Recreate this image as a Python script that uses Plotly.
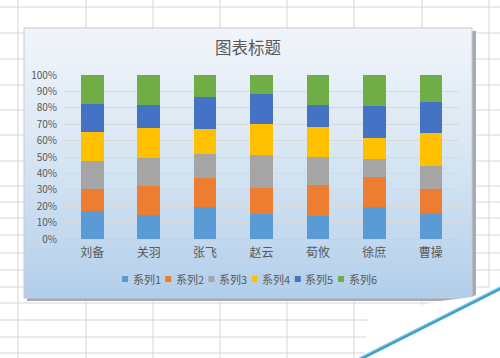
import plotly.graph_objects as go

categories = ["刘备", "关羽", "张飞", "赵云", "荀攸", "徐庶", "曹操"]
series_names = ["系列1", "系列2", "系列3", "系列4", "系列5", "系列6"]
s1 = [17.3, 14.5, 19.6, 15.1, 13.9, 19.8, 16.1]
s2 = [13.1, 17.9, 17.7, 16.1, 19.0, 18.0, 14.5]
s3 = [17.4, 17.2, 14.7, 19.8, 16.9, 10.8, 13.9]
s4 = [17.3, 18.0, 14.9, 19.2, 18.4, 13.2, 20.0]
s5 = [17.1, 14.0, 19.6, 18.0, 13.6, 19.0, 19.2]
s6 = [17.8, 18.4, 13.5, 11.8, 18.2, 19.2, 16.3]
series_values = [s1, s2, s3, s4, s5, s6]
colors = ["#5B9BD5", "#ED7D31", "#A5A5A5", "#FFC000", "#4472C4", "#70AD47"]
title_text = "图表标题"

W, H = 500, 358
L, R, T, B = 64, 459, 75, 239
FONT = "Noto Sans CJK SC"


def px(x):
    return (x - L) / (R - L)


def py(y):
    return (B - y) / (B - T)


fig = go.Figure()
for name, vals, col in zip(series_names, series_values, colors):
    fig.add_trace(go.Bar(x=categories, y=vals, name=name, marker_color=col,
                         marker_line_width=0, showlegend=False))

shapes = []
# Excel grid behind the chart
grid_col = "#d6d6d6"
for gx in [18, 86, 153, 220, 287, 354, 422, 489]:
    shapes.append(dict(type="line", xref="paper", yref="paper", layer="below",
                       x0=px(gx), x1=px(gx), y0=py(0), y1=py(H),
                       line=dict(color=grid_col, width=1)))
for gy in [7, 33, 59, 85, 110, 135, 161, 186, 202, 218, 235, 253, 270, 287, 303, 320, 337, 353]:
    shapes.append(dict(type="line", xref="paper", yref="paper", layer="below",
                       x0=px(0), x1=px(W), y0=py(gy), y1=py(gy),
                       line=dict(color=grid_col, width=1)))

# chart shadow
shapes.append(dict(type="rect", xref="paper", yref="paper", layer="below",
                   x0=px(27), x1=px(476), y0=py(31), y1=py(301),
                   fillcolor="#a3abb4", line_width=0))

# chart area gradient
CX0, CX1, CY0, CY1 = 24, 472, 28, 298
stops = [(0.0, (241, 245, 250)), (0.45, (217, 231, 243)), (1.0, (178, 206, 234))]


def grad(t):
    for (t0, c0), (t1, c1) in zip(stops[:-1], stops[1:]):
        if t <= t1:
            f = (t - t0) / (t1 - t0)
            return tuple(round(a + (b - a) * f) for a, b in zip(c0, c1))
    return stops[-1][1]


n = 54
step = (CY1 - CY0) / n
for i in range(n):
    y0 = CY0 + i * step
    y1 = min(CY1, y0 + step + 0.6)
    c = grad((i + 0.5) / n)
    shapes.append(dict(type="rect", xref="paper", yref="paper", layer="below",
                       x0=px(CX0), x1=px(CX1), y0=py(y0), y1=py(y1),
                       fillcolor="rgb(%d,%d,%d)" % c, line_width=0))
shapes.append(dict(type="rect", xref="paper", yref="paper", layer="below",
                   x0=px(CX0), x1=px(CX1), y0=py(CY0), y1=py(CY1),
                   fillcolor="rgba(0,0,0,0)", line=dict(color="#c5ccd4", width=1)))

# page-curl corner at bottom right
pts = [(500, 281), (472, 297), (440, 301), (368, 318), (364, 358), (500, 358)]
path = "M " + " L ".join("%f,%f" % (px(a), py(b)) for a, b in pts) + " Z"
shapes.append(dict(type="path", xref="paper", yref="paper", layer="above",
                   path=path, fillcolor="white", line_width=0))
shapes.append(dict(type="line", xref="paper", yref="paper", layer="above",
                   x0=px(360), y0=py(359), x1=px(501), y1=py(288),
                   line=dict(color="#3ea3c6", width=3.5)))
shapes.append(dict(type="line", xref="paper", yref="paper", layer="above",
                   x0=px(360), y0=py(357.5), x1=px(501), y1=py(286.5),
                   line=dict(color="#9fd6ea", width=1)))

# legend (manual, matching Excel's compact layout)
annotations = []
leg_y = 279
for i, (name, col) in enumerate(zip(series_names, colors)):
    sx = 122 + i * 43.2
    shapes.append(dict(type="rect", xref="paper", yref="paper", layer="above",
                       x0=px(sx), x1=px(sx + 6), y0=py(leg_y - 3), y1=py(leg_y + 3),
                       fillcolor=col, line_width=0))
    annotations.append(dict(xref="paper", yref="paper", x=px(sx + 8.5), y=py(leg_y),
                            xanchor="left", yanchor="middle", showarrow=False,
                            text=name, font=dict(family=FONT, size=11, color="#595959")))

annotations.append(dict(xref="paper", yref="paper", x=px(248), y=py(47),
                        xanchor="center", yanchor="middle", showarrow=False,
                        text=title_text, font=dict(family=FONT, size=16.5, color="#595959")))

fig.update_layout(
    width=W, height=H,
    margin=dict(l=L, r=W - R, t=T, b=H - B, pad=0),
    paper_bgcolor="white", plot_bgcolor="rgba(0,0,0,0)",
    barmode="stack", barnorm="percent", bargap=0.6,
    showlegend=False,
    shapes=shapes, annotations=annotations,
    font=dict(family=FONT, color="#595959"),
)
fig.update_yaxes(range=[0, 100], dtick=10, ticksuffix="%", showgrid=True,
                 gridcolor="#d9d9d9", gridwidth=1, zeroline=False, showline=False,
                 tickfont=dict(family=FONT, size=10, color="#595959"),
                 ticklabelstandoff=6, fixedrange=True)
fig.update_xaxes(showgrid=False, showline=True, linecolor="#d0d0d0", linewidth=1,
                 tickfont=dict(family=FONT, size=12, color="#595959"),
                 ticklabelstandoff=3, fixedrange=True)

fig.write_html("out.html", config={"displayModeBar": False},
               post_script="document.body.style.margin='0';document.body.style.overflow='hidden';")
